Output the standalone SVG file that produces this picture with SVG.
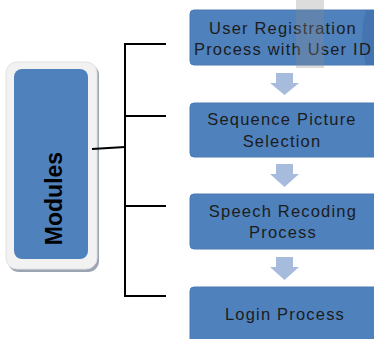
<svg xmlns="http://www.w3.org/2000/svg" width="374" height="339" viewBox="0 0 374 339">
  <defs>
    <style>
      .step { fill: #4f81bd; stroke: #4a7ab3; stroke-width: 1; }
      .label { font-family: "Liberation Sans", Arial, sans-serif; font-size: 16.5px; letter-spacing: 1.2px; fill: #1c1c1c; text-anchor: middle; }
      .flow { fill: #a7bbdc; }
      .wire { fill: none; stroke: #000; stroke-width: 2; }
    </style>
  </defs>
  <rect width="374" height="339" fill="#ffffff"/>

  <!-- Modules panel -->
  <g id="modules">
    <rect x="8" y="64" width="91" height="208" rx="11" fill="#9aa4b2"/>
    <rect x="6" y="62" width="91" height="207" rx="11" fill="#f2f2f2" stroke="#e2e2e2" stroke-width="1"/>
    <rect x="14" y="69" width="74" height="190" rx="8" fill="#4f81bd"/>
    <text x="0" y="0" transform="translate(62 198.5) rotate(-90)" font-family="&quot;Liberation Sans&quot;, Arial, sans-serif" font-size="23" font-weight="bold" fill="#000" text-anchor="middle">Modules</text>
  </g>

  <!-- Bracket connectors -->
  <g id="connectors">
    <path class="wire" d="M92 149 L125 147"/>
    <path class="wire" d="M125 44 V296"/>
    <path class="wire" d="M124 44 H166"/>
    <path class="wire" d="M124 116 H166"/>
    <path class="wire" d="M124 206 H166"/>
    <path class="wire" d="M124 296 H166"/>
  </g>

  <!-- Step 1 -->
  <g id="step-registration">
    <rect class="step" x="190" y="10" width="200" height="55" rx="4"/>
    <path d="M366 10 Q358 37 366 65 H374 V10 Z" fill="#3f6ea6" opacity="0.6"/>
    <text class="label" x="283" y="33.5">User Registration</text>
    <text class="label" x="283" y="55">Process with User ID</text>
    <rect x="296" y="0" width="28" height="68" fill="#8c8c8c" opacity="0.3"/>
  </g>

  <!-- Down arrows between steps -->
  <g id="arrows">
    <path class="flow" d="M276 73 H293 V83 H299 L284.5 95 L270 83 H276 Z"/>
    <path class="flow" d="M276 164 H293 V174 H299 L284.5 187 L270 174 H276 Z"/>
    <path class="flow" d="M276 257 H293 V267 H299 L284.5 280 L270 267 H276 Z"/>
  </g>

  <!-- Step 2 -->
  <g id="step-picture">
    <rect class="step" x="190" y="103" width="200" height="54" rx="4"/>
    <text class="label" x="282" y="125">Sequence Picture</text>
    <text class="label" x="282" y="146.5">Selection</text>
  </g>

  <!-- Step 3 -->
  <g id="step-speech">
    <rect class="step" x="190" y="194" width="200" height="55" rx="4"/>
    <text class="label" x="283" y="217">Speech Recoding</text>
    <text class="label" x="283" y="238">Process</text>
  </g>

  <!-- Step 4 -->
  <g id="step-login">
    <rect class="step" x="190" y="287" width="200" height="70" rx="4"/>
    <text class="label" x="285" y="320">Login Process</text>
  </g>
</svg>
